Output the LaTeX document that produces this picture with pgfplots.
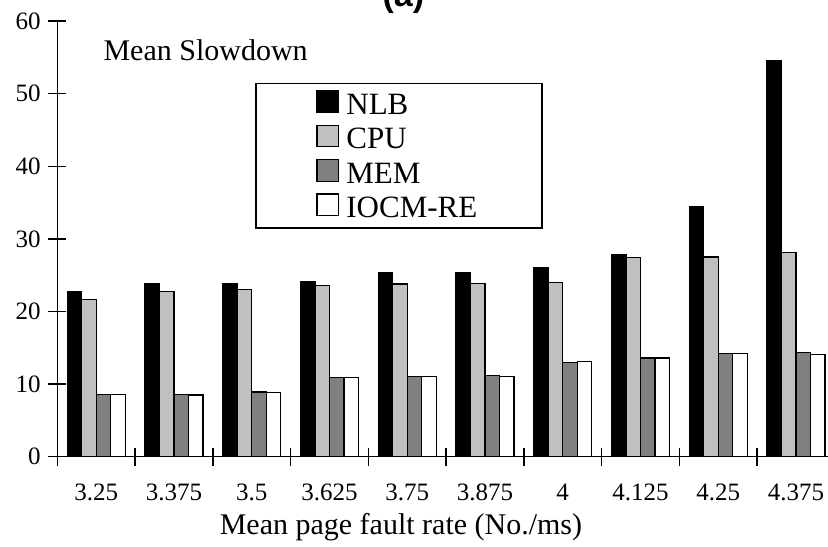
\documentclass[border=0pt]{standalone}
\usepackage{fontspec}
\setmainfont{Liberation Serif}
\newfontfamily\headfont{Liberation Sans}
\usepackage{pgfplots}
\pgfplotsset{compat=1.18}
\usepackage{pgfplotstable}

\definecolor{cpugray}{RGB}{192,192,192}
\definecolor{memgray}{RGB}{128,128,128}

% mean slowdown per page fault rate group
\pgfplotstableread{
x  NLB  CPU  MEM  IOCM
0  22.8 21.6 8.6  8.6
1  23.9 22.8 8.6  8.5
2  23.9 23.0 8.9  8.8
3  24.1 23.6 10.9 10.9
4  25.3 23.8 11.0 11.0
5  25.4 23.9 11.2 11.1
6  26.0 24.0 13.0 13.1
7  27.9 27.4 13.6 13.6
8  34.4 27.5 14.2 14.2
9  54.6 28.1 14.4 14.1
}\slowdown

\begin{document}
\begin{tikzpicture}
\def\bw{0.1865}
\begin{axis}[
  name=ax,
  x=38.875pt, y=3.63pt,
  xmin=-0.5, xmax=9.45,
  ymin=0, ymax=60,
  axis lines=left,
  axis line style={-, line width=0.7pt},
  clip=false,
  ybar=0pt,
  bar width=\bw,
  xtick={0,...,9},
  xticklabels={3.25,3.375,3.5,3.625,3.75,3.875,4,4.125,4.25,4.375},
  minor xtick={-0.5,0.5,...,8.5},
  ytick={0,10,...,60},
  tick align=center,
  major tick length=9pt,
  minor tick length=9pt,
  major tick style={line width=0.7pt, black},
  minor tick style={line width=0.7pt, black},
  major x tick style={draw=none},
  /pgf/number format/assume math mode=true,
  ticklabel style={font=\fontsize{12.5}{14}\selectfont},
  xticklabel style={anchor=center, yshift=-13.1pt},
  yticklabel style={xshift=-0.3pt},
  xlabel={Mean page fault rate (No./ms)},
  xlabel style={at={(axis cs:3.92,0)}, anchor=center, yshift=-35.2pt,
    font=\fontsize{15}{17}\selectfont},
  legend image code/.code={\draw[#1, line width=0.6pt] (0pt,-4.1pt) rectangle (10.8pt,6.7pt);},
  legend cell align=left,
  legend style={at={(axis cs:2.043,51.5)}, anchor=north west,
    draw=black, line width=0.8pt, inner xsep=30.3pt, inner ysep=2.8pt,
    row sep=2.2pt,
    font=\fontsize{15.5}{17}\selectfont,
    /tikz/every odd column/.style={column sep=1.6pt},
    nodes={inner xsep=2pt, inner ysep=0pt, text height=12.5pt, text depth=2.5pt}},
]
\addplot[fill=black, draw=black, line width=0.6pt, bar shift=-1.5*\bw]
  table[x=x, y=NLB] {\slowdown};
\addlegendentry{NLB}
\addplot[fill=cpugray, draw=black, line width=0.6pt, bar shift=-0.5*\bw]
  table[x=x, y=CPU] {\slowdown};
\addlegendentry{CPU}
\addplot[fill=memgray, draw=black, line width=0.6pt, bar shift=0.5*\bw]
  table[x=x, y=MEM] {\slowdown};
\addlegendentry{MEM}
\addplot[fill=white, draw=black, line width=0.6pt, bar shift=1.5*\bw]
  table[x=x, y=IOCM] {\slowdown};
\addlegendentry{IOCM-RE}

\node[anchor=west, font=\fontsize{15}{17}\selectfont]
  at (axis cs:-0.5,56) [xshift=19.6pt] {Mean Slowdown};
\node[anchor=base, font=\headfont\bfseries\fontsize{17}{19}\selectfont]
  at (axis cs:-0.5,0) [xshift=173pt, yshift=225pt] {(a)};
\end{axis}
\pgfresetboundingbox
\useasboundingbox ([shift={(-28.65pt,-44.65pt)}]ax.south west)
  rectangle ([shift={(385.35pt,228.35pt)}]ax.south west);
\end{tikzpicture}
\end{document}
